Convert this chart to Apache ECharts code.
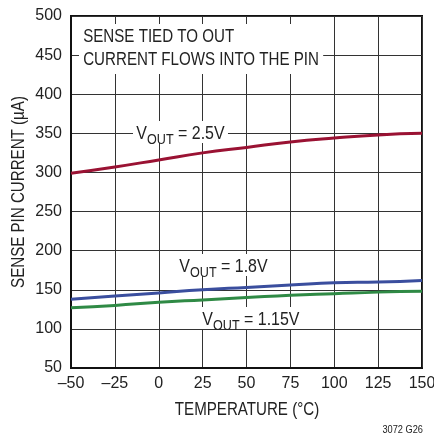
<!DOCTYPE html>
<html>
<head>
<meta charset="utf-8">
<script src="https://cdn.jsdelivr.net/npm/echarts@6/dist/echarts.min.js"></script>
<style>
  html, body { margin: 0; padding: 0; background: #fff; }
  #chart { width: 434px; height: 434px; }
</style>
</head>
<body>
<div id="chart"></div>
<script>
// temperature points (°C)
const temps = [-50, -25, 0, 25, 50, 75, 100, 125, 150]
// sense pin current (µA)
const vout250 = [299, 307, 316, 325, 332, 339, 344, 348, 350]
const vout180 = [138, 142, 146, 150, 153, 156, 159, 160, 162]
const vout115 = [127, 130, 134, 137, 140, 143, 145, 147, 148]

const font = '"Liberation Sans", Arial, sans-serif'
const squeeze = 0.84 // no condensed font here, so squeeze text horizontally

const chart = echarts.init(document.getElementById('chart'))

function pairs(vals) {
  return temps.map((t, i) => [t, vals[i]])
}

function voutLabel(x, y, value) {
  return {
    type: 'text',
    x: x,
    y: y,
    scaleX: squeeze,
    z: 10,
    style: {
      text: '{v|V}{s|OUT}{v| = ' + value + '}',
      backgroundColor: '#fff',
      padding: [0, 4, 0, 4],
      rich: {
        v: { fontFamily: font, fontSize: 19, fill: '#222', verticalAlign: 'bottom', lineHeight: 22 },
        s: { fontFamily: font, fontSize: 15, fill: '#222', verticalAlign: 'bottom', lineHeight: 18, padding: [0, 0, -4, 0] }
      }
    }
  }
}

chart.setOption({
  animation: false,
  grid: {
    left: 71,
    right: 12,
    top: 16,
    bottom: 66,
    outerBoundsMode: 'none',
    show: true,
    borderColor: '#111',
    borderWidth: 2
  },
  xAxis: {
    type: 'value',
    min: -50,
    max: 150,
    interval: 25,
    axisLine: { show: true, onZero: false, lineStyle: { color: '#111', width: 2 } },
    axisTick: { show: false },
    axisLabel: {
      fontFamily: font, fontSize: 16, color: '#222', margin: 8,
      formatter: v => String(v).replace('-', '\u2013')
    },
    splitLine: { show: true, lineStyle: { color: '#333', width: 1 } }
  },
  yAxis: {
    type: 'value',
    min: 50,
    max: 500,
    interval: 50,
    axisLine: { show: true, onZero: false, lineStyle: { color: '#111', width: 2 } },
    axisTick: { show: false },
    axisLabel: { fontFamily: font, fontSize: 16, color: '#222', margin: 9 },
    splitLine: { show: true, lineStyle: { color: '#333', width: 1 } }
  },
  series: [
    {
      type: 'line', smooth: true, symbol: 'none',
      data: pairs(vout250),
      lineStyle: { color: '#9a1233', width: 3 }
    },
    {
      type: 'line', smooth: true, symbol: 'none',
      data: pairs(vout180),
      lineStyle: { color: '#3a4e9e', width: 3 }
    },
    {
      type: 'line', smooth: true, symbol: 'none',
      data: pairs(vout115),
      lineStyle: { color: '#2f8a45', width: 3 }
    }
  ],
  graphic: [
    {
      type: 'text',
      x: 79,
      y: 24,
      scaleX: squeeze,
      z: 10,
      style: {
        text: 'SENSE TIED TO OUT\nCURRENT FLOWS INTO THE PIN',
        fontFamily: font,
        fontSize: 18,
        lineHeight: 23,
        fill: '#222',
        backgroundColor: '#fff',
        padding: [2, 5, 2, 5]
      }
    },
    voutLabel(133, 121, '2.5V'),
    voutLabel(176, 254, '1.8V'),
    voutLabel(199, 307, '1.15V'),
    {
      type: 'text',
      x: 247,
      y: 410,
      scaleX: squeeze,
      style: {
        text: 'TEMPERATURE (°C)', fontFamily: font, fontSize: 18, fill: '#222',
        align: 'center', verticalAlign: 'middle'
      }
    },
    {
      type: 'text',
      x: 19,
      y: 192,
      rotation: Math.PI / 2,
      scaleX: squeeze,
      style: {
        text: 'SENSE PIN CURRENT (µA)', fontFamily: font, fontSize: 18, fill: '#222',
        align: 'center', verticalAlign: 'middle'
      }
    },
    {
      type: 'text',
      x: 423,
      y: 430,
      scaleX: squeeze,
      style: {
        text: '3072 G26', fontFamily: font, fontSize: 11, fill: '#222',
        align: 'right', verticalAlign: 'middle'
      }
    }
  ]
})
</script>
</body>
</html>
